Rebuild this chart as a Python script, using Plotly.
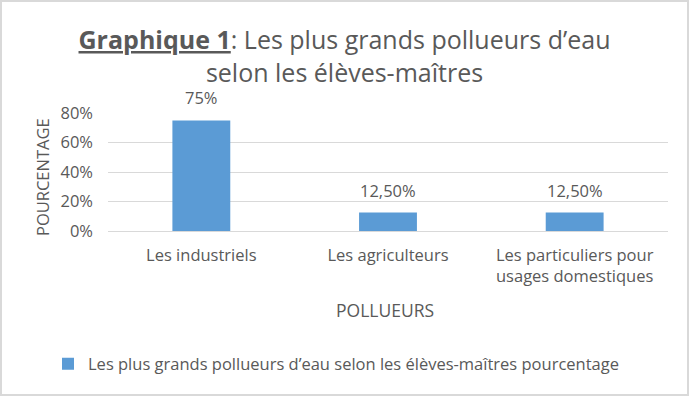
import plotly.graph_objects as go

categories = ["Les industriels", "Les agriculteurs", "Les particuliers pour<br>usages domestiques"]
values = [0.75, 0.125, 0.125]
value_labels = ["75%", "12,50%", "12,50%"]
y_ticks = [0, 0.2, 0.4, 0.6, 0.8]
y_tick_labels = ["0%", "20%", "40%", "60%", "80%"]
series_name = "Les plus grands pollueurs d’eau selon les élèves-maîtres pourcentage"

W, H = 689, 396
L, R, T, B = 108, 21, 113, 165
pw, ph = W - L - R, H - T - B

FONT = "'Open Sans', sans-serif"
GREY = "#595959"
FS = 16.5

fig = go.Figure()
fig.add_trace(go.Bar(
    x=categories, y=values, name=series_name,
    marker=dict(color="#5B9BD5", line=dict(width=0)),
    showlegend=True,
))

label_annotations = [
    dict(x=c, y=v, xref="x", yref="y", text=t, showarrow=False,
         yanchor="bottom", yshift=9,
         font=dict(size=FS, color=GREY, family=FONT))
    for c, v, t in zip(categories, values, value_labels)
]

fig.update_layout(
    width=W, height=H,
    margin=dict(l=L, r=R, t=T, b=B, autoexpand=False),
    paper_bgcolor="white", plot_bgcolor="white",
    font=dict(family=FONT, color=GREY, size=FS),
    bargap=0.69,
    title=dict(
        text="<b><u>Graphique 1</u></b>: Les plus grands pollueurs d’eau<br>selon les élèves-maîtres",
        x=0.5, xanchor="center", xref="container",
        y=1 - 49 / H, yanchor="middle", yref="container",
        font=dict(size=25, color=GREY, family=FONT),
    ),
    xaxis=dict(
        showgrid=False, showline=False, ticks="",
        tickfont=dict(size=FS, color=GREY),
        ticklabelstandoff=12,
    ),
    yaxis=dict(
        range=[0, 0.8], tickvals=y_ticks, ticktext=y_tick_labels,
        showgrid=True, gridcolor="#D9D9D9", gridwidth=1,
        zeroline=True, zerolinecolor="#D9D9D9", zerolinewidth=1,
        showline=False, ticks="", tickfont=dict(size=FS, color=GREY),
        ticklabelstandoff=14,
    ),
    legend=dict(
        orientation="h", x=(336 - L) / pw, xanchor="center",
        y=-(364 - (T + ph)) / ph, yanchor="middle",
        font=dict(size=FS, color=GREY),
        itemwidth=30,
    ),
    annotations=label_annotations + [
        dict(text="POURCENTAGE", textangle=-90, xref="paper", yref="paper",
             x=(42 - L) / pw, y=(T + ph - 177) / ph, xanchor="center", yanchor="middle",
             showarrow=False, font=dict(size=16.5, color=GREY, family=FONT)),
        dict(text="POLLUEURS", xref="paper", yref="paper",
             x=(385 - L) / pw, y=-(310 - (T + ph)) / ph, xanchor="center", yanchor="middle",
             showarrow=False, font=dict(size=17.5, color=GREY, family=FONT)),
    ],
    shapes=[
        dict(type="rect", xref="paper", yref="paper",
             x0=-(L - 1) / pw, x1=(pw + R - 1) / pw,
             y0=-(B - 1) / ph, y1=(ph + T - 1) / ph,
             line=dict(color="#D9D9D9", width=2), fillcolor="rgba(0,0,0,0)"),
    ],
)

fig.write_html("out.html", config={"displayModeBar": False},
               post_script="document.body.style.margin='0';")
